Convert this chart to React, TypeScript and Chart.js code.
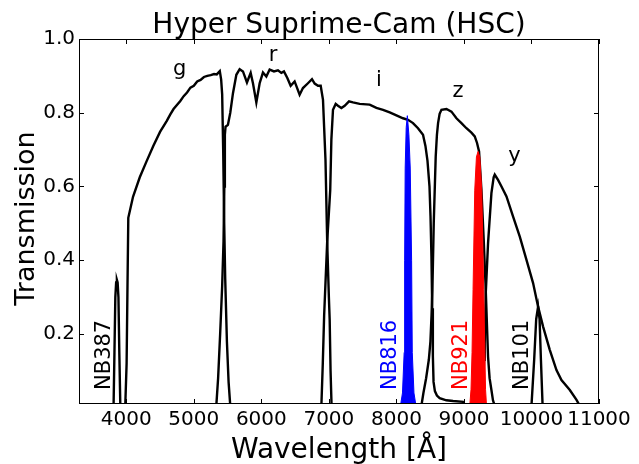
import React, { useEffect, useRef } from "react";
import { Chart, registerables } from "chart.js";

Chart.register(...registerables);

// ---- axis ticks ----
const X_TICKS = [4000, 5000, 6000, 7000, 8000, 9000, 10000, 11000];
const Y_TICKS = [0.2, 0.4, 0.6, 0.8, 1.0];

// ---- broad-band filters ----
const G_WAVE = [3985, 4005, 4018, 4030, 4100, 4200, 4300, 4400, 4500, 4600, 4650, 4700, 4800, 4850, 4900, 4950, 5000, 5050, 5100, 5150, 5200, 5250, 5300, 5340, 5385, 5405, 5420, 5435, 5450, 5465, 5490, 5515, 5540];
const G_TRANS = [0.005, 0.12, 0.33, 0.515, 0.572, 0.625, 0.668, 0.71, 0.748, 0.778, 0.795, 0.81, 0.832, 0.845, 0.855, 0.868, 0.873, 0.885, 0.889, 0.897, 0.9, 0.902, 0.905, 0.904, 0.913, 0.89, 0.85, 0.7, 0.5, 0.35, 0.18, 0.07, 0.005];

const R_WAVE = [5333, 5360, 5390, 5420, 5440, 5452, 5460, 5470, 5505, 5540, 5580, 5630, 5679, 5728, 5787, 5842, 5876, 5926, 5975, 6024, 6074, 6123, 6187, 6246, 6296, 6335, 6385, 6434, 6493, 6567, 6616, 6690, 6750, 6790, 6839, 6879, 6913, 6930, 6950, 6975, 7000, 7012, 7025, 7040];
const R_TRANS = [0.005, 0.08, 0.2, 0.33, 0.45, 0.6, 0.74, 0.762, 0.767, 0.8, 0.853, 0.903, 0.918, 0.912, 0.882, 0.908, 0.88, 0.828, 0.88, 0.909, 0.898, 0.917, 0.912, 0.915, 0.908, 0.912, 0.894, 0.873, 0.885, 0.849, 0.867, 0.88, 0.891, 0.879, 0.873, 0.873, 0.835, 0.76, 0.672, 0.45, 0.3, 0.238, 0.1, 0.005];

const I_WAVE = [6889, 6910, 6930, 6975, 7020, 7037, 7061, 7101, 7135, 7185, 7234, 7298, 7357, 7456, 7604, 7704, 7802, 7901, 8000, 8098, 8172, 8246, 8320, 8394, 8430, 8460, 8490, 8505, 8519, 8530, 8540, 8550, 8570, 8600, 8641, 8740, 8839, 8987, 9010];
const I_TRANS = [0.005, 0.12, 0.25, 0.45, 0.59, 0.727, 0.808, 0.824, 0.819, 0.813, 0.819, 0.831, 0.828, 0.824, 0.822, 0.813, 0.808, 0.801, 0.793, 0.785, 0.781, 0.772, 0.758, 0.74, 0.71, 0.67, 0.6, 0.52, 0.41, 0.27, 0.14, 0.07, 0.045, 0.033, 0.026, 0.02, 0.018, 0.016, 0.005];

const Z_WAVE = [8370, 8400, 8440, 8480, 8504, 8520, 8533, 8553, 8582, 8600, 8617, 8640, 8667, 8741, 8815, 8889, 8963, 9037, 9111, 9160, 9194, 9224, 9259, 9293, 9323, 9357, 9380, 9407, 9430, 9456];
const Z_TRANS = [0.005, 0.04, 0.08, 0.13, 0.18, 0.25, 0.32, 0.5, 0.681, 0.74, 0.772, 0.797, 0.808, 0.81, 0.803, 0.785, 0.772, 0.758, 0.746, 0.736, 0.718, 0.695, 0.591, 0.455, 0.32, 0.138, 0.08, 0.048, 0.02, 0.005];

const Y_WAVE = [9260, 9280, 9300, 9308, 9323, 9357, 9407, 9440, 9456, 9480, 9505, 9556, 9630, 9728, 9827, 9926, 10024, 10098, 10172, 10271, 10370, 10444, 10568, 10667, 10716];
const Y_TRANS = [0.005, 0.06, 0.13, 0.175, 0.31, 0.446, 0.582, 0.625, 0.632, 0.625, 0.618, 0.6, 0.573, 0.518, 0.464, 0.401, 0.338, 0.274, 0.22, 0.157, 0.102, 0.075, 0.048, 0.021, 0.005];

// ---- narrow-band filters ----
const NB387_WAVE = [3812, 3825, 3838, 3850, 3861, 3872, 3884, 3897, 3912];
const NB387_TRANS = [0.005, 0.15, 0.3, 0.34, 0.347, 0.34, 0.3, 0.15, 0.005];

const NB816_WAVE = [8060, 8090, 8115, 8122, 8130, 8145, 8162, 8185, 8205, 8225, 8235, 8260, 8290];
const NB816_TRANS = [0.005, 0.04, 0.15, 0.4, 0.65, 0.76, 0.792, 0.74, 0.65, 0.4, 0.15, 0.04, 0.005];

const NB921_WAVE = [9086, 9105, 9120, 9135, 9160, 9185, 9209, 9235, 9264, 9293, 9310, 9320, 9335];
const NB921_TRANS = [0.005, 0.05, 0.15, 0.32, 0.59, 0.68, 0.695, 0.68, 0.59, 0.32, 0.15, 0.05, 0.005];

const NB101_WAVE = [10000, 10040, 10070, 10098, 10120, 10140, 10165];
const NB101_TRANS = [0.005, 0.13, 0.24, 0.274, 0.24, 0.13, 0.005];

// ---- annotations ----
const BAND_LABELS = ["g", "r", "i", "z", "y"];
const BAND_LABEL_X = [4790, 6172, 7742, 8913, 9750];
const BAND_LABEL_Y = [0.903, 0.941, 0.873, 0.843, 0.667];

const NB_LABELS = ["NB387", "NB816", "NB921", "NB101"];
const NB_LABEL_X = [3754, 7995, 9040, 9955];
const NB_LABEL_Y = 0.048;
const NB_LABEL_COLORS = ["#000000", "#0000ff", "#ff0000", "#000000"];

const TITLE = "Hyper Suprime-Cam (HSC)";
const X_TITLE = "Wavelength [Å]";
const Y_TITLE = "Transmission";

const FONT = "'DejaVu Sans', 'Bitstream Vera Sans', sans-serif";

function pts(w: number[], t: number[]) {
  return w.map((x, i) => ({ x, y: t[i] }));
}

export default function App() {
  const ref = useRef<HTMLCanvasElement>(null);

  useEffect(() => {
    const canvas = ref.current;
    if (!canvas) return;

    const overlay = {
      id: "overlay",
      afterDraw(chart: any) {
        const { ctx, chartArea: a, scales } = chart;
        const xs = scales.x;
        const ys = scales.y;
        ctx.save();
        // frame
        ctx.strokeStyle = "#000";
        ctx.lineWidth = 1;
        ctx.strokeRect(a.left + 0.5, a.top + 0.5, a.right - a.left - 1, a.bottom - a.top - 1);
        // inward ticks
        ctx.beginPath();
        X_TICKS.forEach((v) => {
          const p = Math.round(xs.getPixelForValue(v)) + 0.5;
          ctx.moveTo(p, a.bottom);
          ctx.lineTo(p, a.bottom - 5);
          ctx.moveTo(p, a.top);
          ctx.lineTo(p, a.top + 5);
        });
        Y_TICKS.forEach((v) => {
          const p = Math.round(ys.getPixelForValue(v)) + 0.5;
          ctx.moveTo(a.left, p);
          ctx.lineTo(a.left + 5, p);
          ctx.moveTo(a.right, p);
          ctx.lineTo(a.right - 5, p);
        });
        ctx.stroke();

        // band letters
        ctx.fillStyle = "#000";
        ctx.font = `21px ${FONT}`;
        ctx.textAlign = "center";
        ctx.textBaseline = "alphabetic";
        BAND_LABELS.forEach((s, i) => {
          ctx.fillText(s, xs.getPixelForValue(BAND_LABEL_X[i]), ys.getPixelForValue(BAND_LABEL_Y[i]));
        });

        // narrow-band labels (rotated)
        ctx.font = `21px ${FONT}`;
        NB_LABELS.forEach((s, i) => {
          ctx.save();
          ctx.translate(xs.getPixelForValue(NB_LABEL_X[i]), ys.getPixelForValue(NB_LABEL_Y));
          ctx.rotate(-Math.PI / 2);
          ctx.textAlign = "left";
          ctx.textBaseline = "alphabetic";
          ctx.fillStyle = NB_LABEL_COLORS[i];
          ctx.fillText(s, 0, 0);
          ctx.restore();
        });

        // title
        ctx.fillStyle = "#000";
        ctx.font = `28px ${FONT}`;
        ctx.textAlign = "center";
        ctx.textBaseline = "alphabetic";
        const cx = (a.left + a.right) / 2;
        ctx.fillText(TITLE, cx, a.top - 6);
        // x title
        ctx.fillText(X_TITLE, cx, a.bottom + 54);
        // y title
        ctx.save();
        ctx.translate(a.left - 45.5, (a.top + a.bottom) / 2 - 3);
        ctx.rotate(-Math.PI / 2);
        ctx.font = `27px ${FONT}`;
        ctx.fillText(Y_TITLE, 0, 0);
        ctx.restore();

        ctx.restore();
      },
    };

    const black = (w: number[], t: number[]) => ({
      data: pts(w, t),
      borderColor: "#000000",
      backgroundColor: "#000000",
      borderWidth: 2.4,
      pointRadius: 0,
      fill: false,
      tension: 0,
    });
    const filled = (w: number[], t: number[], c: string) => ({
      data: pts(w, t),
      borderColor: c,
      backgroundColor: c,
      borderWidth: 1,
      pointRadius: 0,
      fill: "origin",
      tension: 0,
    });

    const chart = new Chart(canvas, {
      type: "line",
      data: {
        datasets: [
          filled(NB816_WAVE, NB816_TRANS, "#0000ff"),
          filled(NB921_WAVE, NB921_TRANS, "#ff0000"),
          black(NB387_WAVE, NB387_TRANS),
          black(NB101_WAVE, NB101_TRANS),
          black(G_WAVE, G_TRANS),
          black(R_WAVE, R_TRANS),
          black(I_WAVE, I_TRANS),
          black(Z_WAVE, Z_TRANS),
          black(Y_WAVE, Y_TRANS),
        ] as any,
      },
      options: {
        animation: false,
        responsive: false,
        devicePixelRatio: 1,
        events: [],
        layout: { padding: { top: 39, right: 40, left: 0, bottom: 0 } },
        plugins: {
          legend: { display: false },
          tooltip: { enabled: false },
          title: { display: false },
        },
        scales: {
          x: {
            type: "linear",
            min: 3300,
            max: 11000,
            grid: { display: false, drawTicks: false },
            border: { display: false },
            afterBuildTicks: (s: any) => {
              s.ticks = X_TICKS.map((v) => ({ value: v }));
            },
            afterFit: (s: any) => {
              s.height = 60;
            },
            ticks: {
              color: "#000",
              padding: 4,
              maxRotation: 0,
              autoSkip: false,
              font: { family: FONT, size: 20 },
              callback: (v: any) => String(v),
            },
          },
          y: {
            type: "linear",
            min: 0.01,
            max: 1.0,
            grid: { display: false, drawTicks: false },
            border: { display: false },
            afterBuildTicks: (s: any) => {
              s.ticks = Y_TICKS.map((v) => ({ value: v }));
            },
            afterFit: (s: any) => {
              s.width = 79;
            },
            ticks: {
              color: "#000",
              padding: 4,
              autoSkip: false,
              font: { family: FONT, size: 20 },
              callback: (v: any) => Number(v).toFixed(1),
            },
          },
        },
      },
      plugins: [overlay],
    } as any);

    return () => chart.destroy();
  }, []);

  return (
    <div style={{ position: "fixed", left: 0, top: 0, width: 639, height: 464, background: "#fff" }}>
      <canvas ref={ref} width={639} height={464} style={{ width: 639, height: 464, display: "block" }} />
    </div>
  );
}
